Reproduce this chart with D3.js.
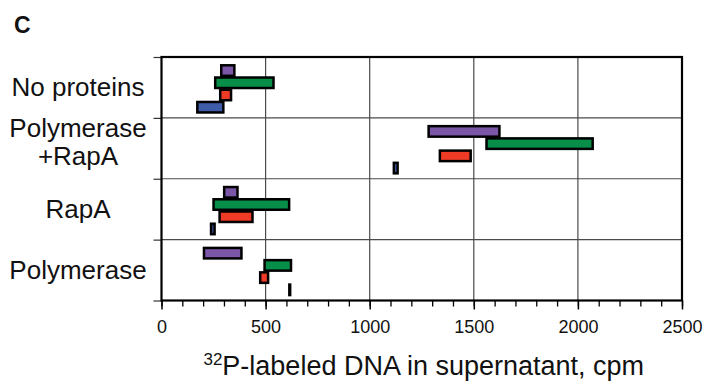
<!DOCTYPE html>
<html>
<head>
<meta charset="utf-8">
<script src="https://cdn.jsdelivr.net/npm/d3@7"></script>
<style>
  html, body { margin: 0; padding: 0; background: #fff; }
  svg { display: block; font-family: "Liberation Sans", Arial, Helvetica, sans-serif; }
</style>
</head>
<body>
<svg id="chart" width="705" height="385"></svg>
<script>
// ---- data ----
const categories = ["No proteins", "Polymerase\n+RapA", "RapA", "Polymerase"];
const seriesNames = ["purple", "green", "red", "blue"];
const seriesColors = ["#7b56a6", "#078e48", "#ef3a26", "#3f5ca9"];
// range bars: start / end (cpm) per category
const purpleStart = [287, 1283, 301, 204];
const purpleEnd   = [350, 1623, 365, 384];
const greenStart  = [258, 1561, 250, 495];
const greenEnd    = [538, 2071, 613, 622];
const redStart    = [282, 1337, 279, 474];
const redEnd      = [334, 1485, 437, 512];
const blueStart   = [172, 1116, 238, 614];
const blueEnd     = [297, 1134, 255, 618];
const xTickMajor  = [0, 500, 1000, 1500, 2000, 2500];
const xTickMinorStep = 100;
const panelLabel = "C";
const axisTitleSup = "32";
const axisTitle = "P-labeled DNA in supernatant, cpm";

const starts = [purpleStart, greenStart, redStart, blueStart];
const ends = [purpleEnd, greenEnd, redEnd, blueEnd];
const bars = [];
categories.forEach((c, ci) => {
  seriesNames.forEach((s, si) => {
    bars.push({cat: c, series: s, color: seriesColors[si], x0: starts[si][ci], x1: ends[si][ci]});
  });
});

// ---- layout ----
const svg = d3.select("#chart");
const mLeft = 161.5, mRight = 682, mTop = 57, mBottom = 300.5;

const x = d3.scaleLinear().domain([0, 2500]).range([mLeft, mRight]);
const y = d3.scaleBand().domain(categories).range([mTop, mBottom]).padding(0);
const yIn = d3.scaleBand().domain(seriesNames).range([0, y.bandwidth()])
  .paddingInner(0).paddingOuter(0.49).align(0.62);

// gridlines
const g = svg.append("g");
g.selectAll("line.vg").data(xTickMajor.slice(1, -1)).join("line")
  .attr("x1", d => x(d)).attr("x2", d => x(d))
  .attr("y1", mTop).attr("y2", mBottom)
  .attr("stroke", "#4a4a4a").attr("stroke-width", 1.2);
g.selectAll("line.hg").data(categories.slice(1)).join("line")
  .attr("x1", mLeft).attr("x2", mRight)
  .attr("y1", d => y(d)).attr("y2", d => y(d))
  .attr("stroke", "#4a4a4a").attr("stroke-width", 1.2);

// y axis ticks (band boundaries)
const yb = d3.scaleLinear().domain([0, categories.length]).range([mTop, mBottom]);
svg.append("g").attr("transform", `translate(${mLeft},0)`)
  .call(d3.axisLeft(yb).ticks(categories.length).tickSize(8).tickFormat(""))
  .call(a => a.select(".domain").remove())
  .call(a => a.selectAll(".tick line").attr("stroke", "#333").attr("stroke-width", 1.2));

// x minor ticks
svg.append("g").attr("transform", `translate(0,${mBottom})`)
  .call(d3.axisBottom(x).tickValues(d3.range(0, 2501, xTickMinorStep)).tickSize(6).tickFormat(""))
  .call(a => a.select(".domain").remove())
  .call(a => a.selectAll(".tick line").attr("stroke", "#000").attr("stroke-width", 1.3));
// x major ticks + labels
svg.append("g").attr("transform", `translate(0,${mBottom})`)
  .call(d3.axisBottom(x).tickValues(xTickMajor).tickSize(9).tickPadding(11).tickFormat(d3.format("d")))
  .call(a => a.select(".domain").remove())
  .call(a => a.selectAll(".tick line").attr("stroke", "#000").attr("stroke-width", 1.5))
  .call(a => a.selectAll(".tick text").attr("font-size", 18).attr("fill", "#111")
    .attr("font-family", "Liberation Sans, Arial, sans-serif"));

// bars
svg.append("g").selectAll("rect").data(bars).join("rect")
  .attr("x", d => x(d.x0))
  .attr("width", d => Math.max(0, x(d.x1) - x(d.x0)))
  .attr("y", d => y(d.cat) + yIn(d.series) + (yIn.bandwidth() - 10.5) / 2)
  .attr("height", 10.5)
  .attr("fill", d => d.color)
  .attr("stroke", "#000")
  .attr("stroke-width", 2.5);

// frame
svg.append("rect").attr("x", mLeft).attr("y", mTop)
  .attr("width", mRight - mLeft).attr("height", mBottom - mTop)
  .attr("fill", "none").attr("stroke", "#000").attr("stroke-width", 2.2);

// category labels
const lab = svg.append("g").attr("font-size", 26).attr("fill", "#111").attr("text-anchor", "middle");
categories.forEach(c => {
  const lines = c.split("\n");
  const cy = y(c) + y.bandwidth() / 2;
  const first = cy + 9 - (lines.length - 1) * 20.4;
  const t = lab.append("text").attr("x", 78);
  lines.forEach((ln, i) => {
    t.append("tspan").attr("x", 78).attr("y", first + i * 28).text(ln);
  });
});

// panel label
svg.append("text").attr("x", 14).attr("y", 33).attr("font-size", 23).attr("font-weight", "bold")
  .attr("fill", "#111").text(panelLabel);

// axis title
const tt = svg.append("text").attr("x", (mLeft + mRight) / 2 + 2).attr("y", 375)
  .attr("text-anchor", "middle").attr("font-size", 27).attr("fill", "#111");
tt.append("tspan").attr("font-size", 17).attr("dy", -10).text(axisTitleSup);
tt.append("tspan").attr("dy", 10).text(axisTitle);
</script>
</body>
</html>
